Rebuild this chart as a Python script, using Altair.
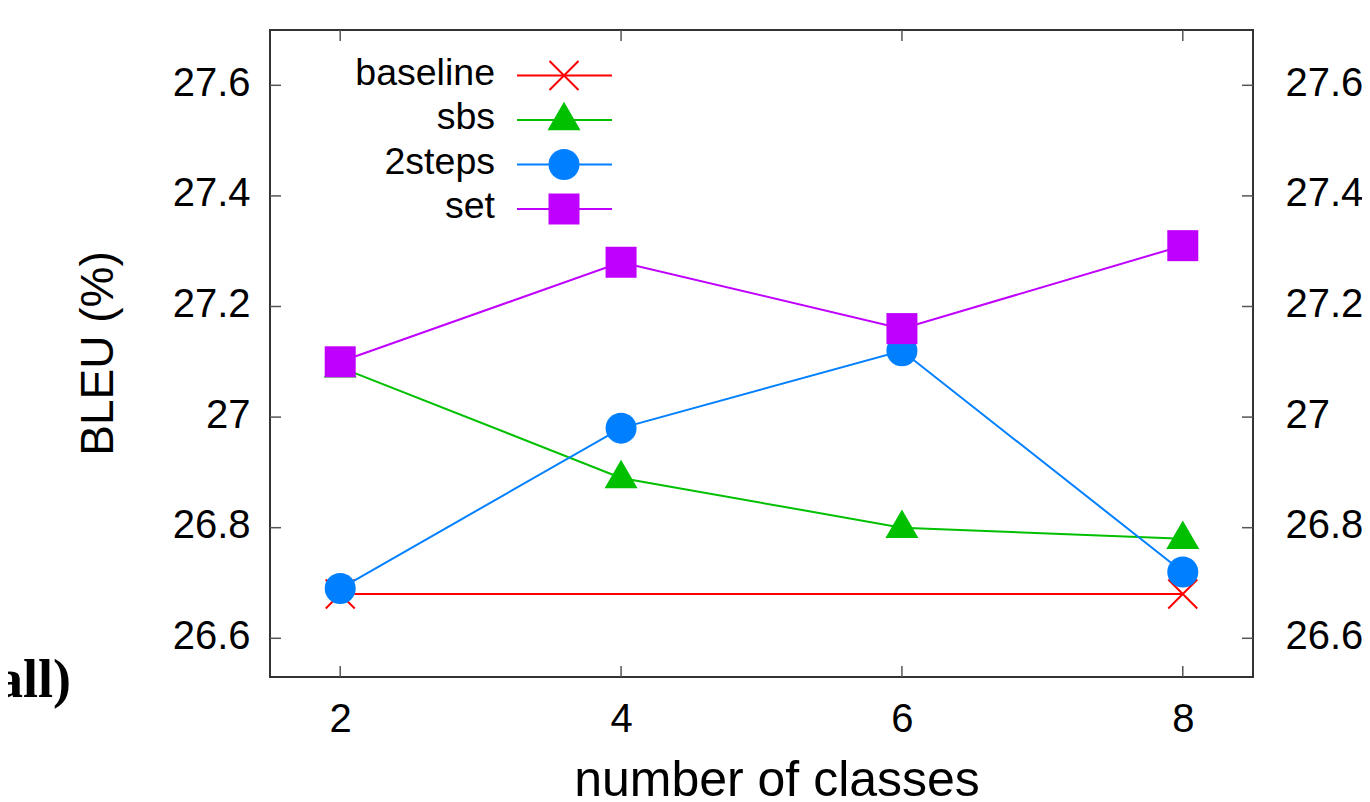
import altair as alt
import pandas as pd

# ---------------- data ----------------
series_names = ["baseline", "sbs", "2steps", "set"]
x_classes = [2, 4, 6, 8]
baseline_x = [2, 8]
baseline_y = [26.68, 26.68]
sbs_y = [27.09, 26.89, 26.80, 26.78]
twosteps_y = [26.69, 26.98, 27.12, 26.72]
set_y = [27.10, 27.28, 27.16, 27.31]

x_ticks = [2, 4, 6, 8]
y_ticks = [26.6, 26.8, 27.0, 27.2, 27.4, 27.6]
x_title = ["number of classes"]
y_title = ["BLEU (%)"]
side_text = ["all)"]

colors = ["#ff0000", "#00c000", "#0080ff", "#c000ff"]

# ---------------- layout / style ----------------
W, H = 983, 647
FONT = "Liberation Sans"
TICK_COL = "#555555"
TICK_LEN = 11

xs = alt.Scale(domain=[1.5, 8.5], nice=False, zero=False)
ys = alt.Scale(domain=[26.53, 27.70], nice=False, zero=False)

series_xy = {
    "baseline": (baseline_x, baseline_y),
    "sbs": (x_classes, sbs_y),
    "2steps": (x_classes, twosteps_y),
    "set": (x_classes, set_y),
}
markers = {
    "baseline": dict(shape="M-1,-1L1,1M-1,1L1,-1", filled=False, size=841, strokeWidth=2),
    "sbs": dict(shape="triangle-up", filled=True, size=1089, strokeWidth=0, yOffset=-4),
    "2steps": dict(shape="circle", filled=True, size=961, strokeWidth=0),
    "set": dict(shape="square", filled=True, size=961, strokeWidth=0),
}


def X(field):
    return alt.X(field, scale=xs, axis=None)


def Y(field):
    return alt.Y(field, scale=ys, axis=None)


layers = []

# ---------------- ticks + axes ----------------
xt = pd.DataFrame({"v": x_ticks})
yt = pd.DataFrame({"v": y_ticks})

label_cfg = dict(labelFont=FONT, labelFontSize=40, labelColor="black",
                 domain=False, ticks=False, grid=False, title=None)

layers.append(
    alt.Chart(xt).mark_rule(color=TICK_COL, strokeWidth=1.5).encode(
        x=alt.X("v:Q", scale=xs,
                axis=alt.Axis(values=x_ticks, format="d", labelPadding=22, **label_cfg)),
        y=alt.value(H), y2=alt.value(H - TICK_LEN))
)
layers.append(
    alt.Chart(xt).mark_rule(color=TICK_COL, strokeWidth=1.5).encode(
        x=X("v:Q"), y=alt.value(0), y2=alt.value(TICK_LEN))
)
layers.append(
    alt.Chart(yt).mark_rule(color=TICK_COL, strokeWidth=1.5).encode(
        y=alt.Y("v:Q", scale=ys,
                axis=alt.Axis(values=y_ticks, format=".1~f", orient="left",
                              labelPadding=20, labelOffset=-2, **label_cfg)),
        x=alt.value(0), x2=alt.value(TICK_LEN))
)
layers.append(
    alt.Chart(yt).mark_rule(color=TICK_COL, strokeWidth=1.5).encode(
        y=alt.Y("v:Q", scale=ys,
                axis=alt.Axis(values=y_ticks, format=".1~f", orient="right",
                              labelPadding=32, labelOffset=-2, **label_cfg)),
        x=alt.value(W), x2=alt.value(W - TICK_LEN))
)

# ---------------- series ----------------
LEG_TEXT_X = 225
LEG_LINE_X1, LEG_LINE_X2 = 247, 342
LEG_SYM_X = 294
LEG_Y0, LEG_DY = 45.5, 44.5

for i, name in enumerate(series_names):
    xv, yv = series_xy[name]
    df = pd.DataFrame({"x": xv, "y": yv, "series": name})
    c = colors[i]
    m = dict(markers[name])
    layers.append(
        alt.Chart(df).mark_line(color=c, strokeWidth=2).encode(x=X("x:Q"), y=Y("y:Q"))
    )
    layers.append(
        alt.Chart(df).mark_point(color=c, opacity=1, **m).encode(x=X("x:Q"), y=Y("y:Q"))
    )
    # legend entry
    ly = LEG_Y0 + LEG_DY * i
    ldf = pd.DataFrame({"series": [name]})
    layers.append(
        alt.Chart(ldf).mark_text(font=FONT, fontSize=37.5, align="right",
                                 baseline="middle", color="black").encode(
            text="series:N", x=alt.value(LEG_TEXT_X), y=alt.value(ly - 2))
    )
    layers.append(
        alt.Chart(ldf).mark_rule(color=c, strokeWidth=2).encode(
            x=alt.value(LEG_LINE_X1), x2=alt.value(LEG_LINE_X2), y=alt.value(ly))
    )
    layers.append(
        alt.Chart(ldf).mark_point(color=c, opacity=1, **m).encode(
            x=alt.value(LEG_SYM_X), y=alt.value(ly))
    )

# ---------------- titles ----------------
layers.append(
    alt.Chart(pd.DataFrame({"t": x_title})).mark_text(
        font=FONT, fontSize=50, align="center", baseline="alphabetic", color="black").encode(
        text="t:N", x=alt.value(507), y=alt.value(766))
)
layers.append(
    alt.Chart(pd.DataFrame({"t": y_title})).mark_text(
        font=FONT, fontSize=46, align="center", baseline="alphabetic", angle=270,
        color="black").encode(
        text="t:N", x=alt.value(-157), y=alt.value(323.5))
)
layers.append(
    alt.Chart(pd.DataFrame({"t": side_text})).mark_text(
        font="Liberation Serif", fontSize=54, fontWeight="bold", align="right",
        baseline="alphabetic", color="black").encode(
        text="t:N", x=alt.value(-199), y=alt.value(667))
)

chart = alt.layer(*layers).properties(
    width=W, height=H,
    autosize=alt.AutoSizeParams(type="none"),
    padding={"left": 262, "top": 22, "right": 109, "bottom": 125},
).resolve_axis(x="independent", y="independent").configure_view(
    stroke="#333333", strokeWidth=2
)

chart.save("out.html", embed_options={"renderer": "svg", "actions": False})
